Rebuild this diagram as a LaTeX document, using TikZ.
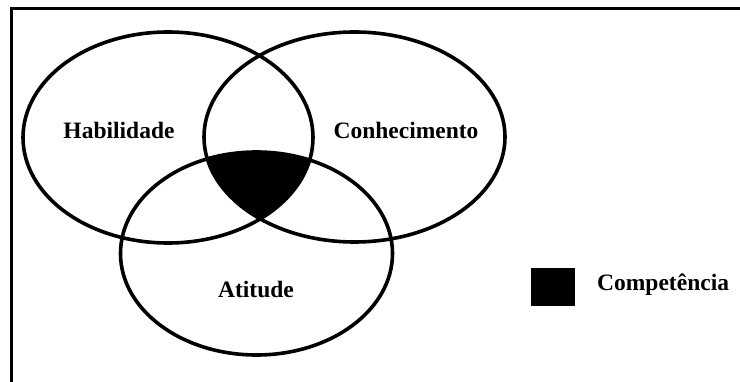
\documentclass[tikz,border=0pt]{standalone}
\usepackage{fontspec}
\setmainfont{Liberation Serif}
\begin{document}
\begin{tikzpicture}[x=1pt,y=-1pt,
  venn/.style={line width=3.6pt},
  lbl/.style={font=\fontsize{23.5}{28}\selectfont\bfseries, inner sep=0pt, anchor=center}]
\useasboundingbox (0,0) rectangle (740,382);
% frame (cropped)
\draw[line width=2.2pt] (11.5,382) -- (11.5,8.5) -- (740,8.5);
% competence fill
\begin{scope}
  \clip (168,137.5) ellipse [x radius=145, y radius=105.5];
  \clip (354.5,137) ellipse [x radius=150.5, y radius=105];
  \fill (256.5,253.5) ellipse [x radius=136, y radius=101.5];
\end{scope}
\draw[venn] (168,137.5) ellipse [x radius=145, y radius=105.5];
\draw[venn] (354.5,137) ellipse [x radius=150.5, y radius=105];
\draw[venn] (256.5,253.5) ellipse [x radius=136, y radius=101.5];
\node[lbl] (hab) at (119,130) {Habilidade};
\node[lbl] (con) at (406,130) {Conhecimento};
\node[lbl] (ati) at (256,289) {Atitude};
\node[fill=black, draw=black, minimum width=43pt, minimum height=37pt, inner sep=0pt] (sq) at (552.5,286.5) {};
\node[lbl, anchor=west] (comp) at (597,285) {Competência};
\end{tikzpicture}
\end{document}
